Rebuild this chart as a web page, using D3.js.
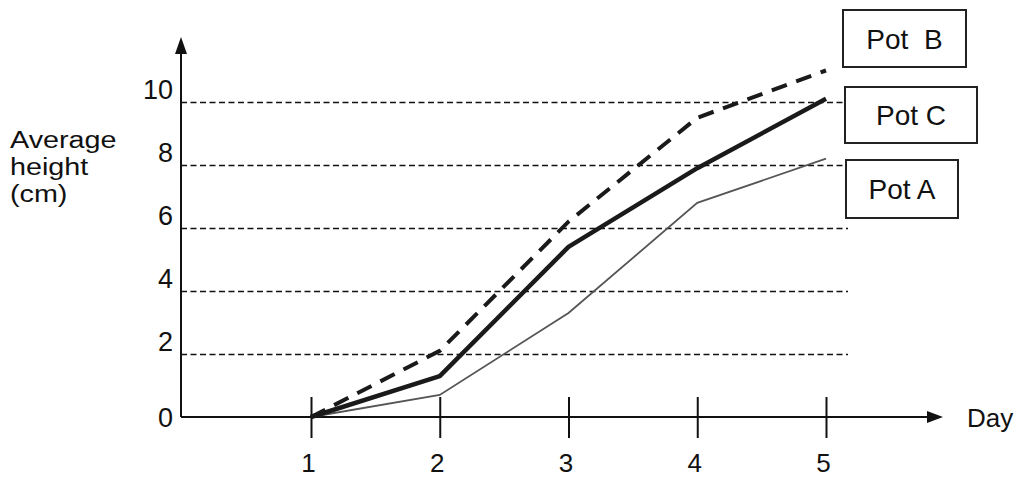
<!DOCTYPE html>
<html>
<head>
<meta charset="utf-8">
<script src="https://cdn.jsdelivr.net/npm/d3@7/dist/d3.min.js"></script>
<style>
  html, body { margin: 0; padding: 0; background: #fff; }
  svg { display: block; font-family: "Liberation Sans", Arial, sans-serif; }
</style>
</head>
<body>
<svg id="chart" width="1018" height="484"></svg>
<script>
// Average plant height per pot, measured on days 1 to 5
const days = [1, 2, 3, 4, 5];
const potA = [0, 0.7, 3.3, 6.8, 8.2];
const potB = [0, 2.1, 6.2, 9.5, 11.0];
const potC = [0, 1.3, 5.4, 7.9, 10.1];
const yTicks = [0, 2, 4, 6, 8, 10];
const gridValues = [2, 4, 6, 8, 10];
const yTitleLines = ["Average", "height", "(cm)"];

const FONT = "Liberation Sans, Arial, sans-serif";
const svg = d3.select("#chart");
const x = d3.scaleLinear().domain([1, 5]).range([311, 826]);
const y = d3.scaleLinear().domain([0, 10]).range([417, 102]);
const axisLeftX = 181;

// dashed horizontal guide lines
const grid = svg.append("g")
  .attr("transform", `translate(${axisLeftX},0)`)
  .call(d3.axisRight(y).tickValues(gridValues).tickSize(667).tickFormat(""));
grid.select(".domain").remove();
grid.selectAll(".tick line")
  .attr("stroke", "#111")
  .attr("stroke-width", 1.5)
  .attr("stroke-dasharray", "6,3.5");

// y tick labels sit just above their guide lines
const yAx = svg.append("g")
  .attr("transform", `translate(${axisLeftX},0)`)
  .call(d3.axisLeft(y).tickValues(yTicks).tickSize(0).tickPadding(8));
yAx.select(".domain").remove();
yAx.selectAll(".tick text")
  .attr("font-size", 27)
  .attr("fill", "#111")
  .attr("font-family", FONT)
  .attr("dy", d => d === 0 ? "0.36em" : "-4");

// x axis ticks crossing the baseline
const xAx = svg.append("g")
  .attr("transform", `translate(0,${y(0)})`)
  .call(d3.axisBottom(x).tickValues(days).tickSize(21).tickPadding(16).tickFormat(d3.format("d")));
xAx.select(".domain").remove();
xAx.selectAll(".tick line")
  .attr("y1", -20)
  .attr("stroke", "#111")
  .attr("stroke-width", 2);
xAx.selectAll(".tick text")
  .attr("font-size", 26)
  .attr("fill", "#111")
  .attr("font-family", FONT)
  .attr("dx", -3);

// axis lines with arrowheads
svg.append("line")
  .attr("x1", axisLeftX).attr("y1", y(0))
  .attr("x2", 930).attr("y2", y(0))
  .attr("stroke", "#111").attr("stroke-width", 2);
svg.append("path")
  .attr("d", `M943,${y(0)} L927,${y(0) - 6} L927,${y(0) + 6} Z`)
  .attr("fill", "#111");
svg.append("line")
  .attr("x1", axisLeftX).attr("y1", y(0))
  .attr("x2", axisLeftX).attr("y2", 52)
  .attr("stroke", "#111").attr("stroke-width", 2);
svg.append("path")
  .attr("d", `M${axisLeftX},37 L${axisLeftX - 6},54 L${axisLeftX + 6},54 Z`)
  .attr("fill", "#111");

// axis titles
svg.append("text")
  .attr("x", 967).attr("y", 427)
  .attr("font-size", 26).attr("fill", "#111")
  .text("Day");
// y title: three stacked lines, slightly widened letterforms
svg.append("g").selectAll("text")
  .data(yTitleLines)
  .join("text")
  .attr("transform", (d, i) => `translate(10,${148 + i * 27}) scale(1.25,1)`)
  .attr("font-size", 23).attr("fill", "#111")
  .text(d => d);

// growth lines
const line = vals => d3.line()
  .x((d, i) => x(days[i]))
  .y(d => y(d))(vals);

svg.append("path")
  .attr("d", line(potA))
  .attr("fill", "none").attr("stroke", "#555").attr("stroke-width", 1.8);
svg.append("path")
  .attr("d", line(potC))
  .attr("fill", "none").attr("stroke", "#1a1a1a").attr("stroke-width", 4.5)
  .attr("stroke-linejoin", "round");
svg.append("path")
  .attr("d", line(potB))
  .attr("fill", "none").attr("stroke", "#1a1a1a").attr("stroke-width", 4)
  .attr("stroke-dasharray", "16,10");

// labelled boxes at the line ends
const labels = [
  { name: "Pot  B", x0: 843, y0: 10, w: 123, h: 57 },
  { name: "Pot C", x0: 845, y0: 87, w: 132, h: 56 },
  { name: "Pot A", x0: 846, y0: 160, w: 112, h: 58 }
];
const box = svg.selectAll("g.pot").data(labels).join("g").attr("class", "pot");
box.append("rect")
  .attr("x", d => d.x0).attr("y", d => d.y0)
  .attr("width", d => d.w).attr("height", d => d.h)
  .attr("fill", "#fff").attr("stroke", "#222").attr("stroke-width", 2);
box.append("text")
  .attr("x", d => d.x0 + d.w / 2).attr("y", d => d.y0 + d.h / 2 + 10)
  .attr("text-anchor", "middle")
  .attr("font-size", 28).attr("fill", "#111")
  .style("white-space", "pre")
  .text(d => d.name);
</script>
</body>
</html>
